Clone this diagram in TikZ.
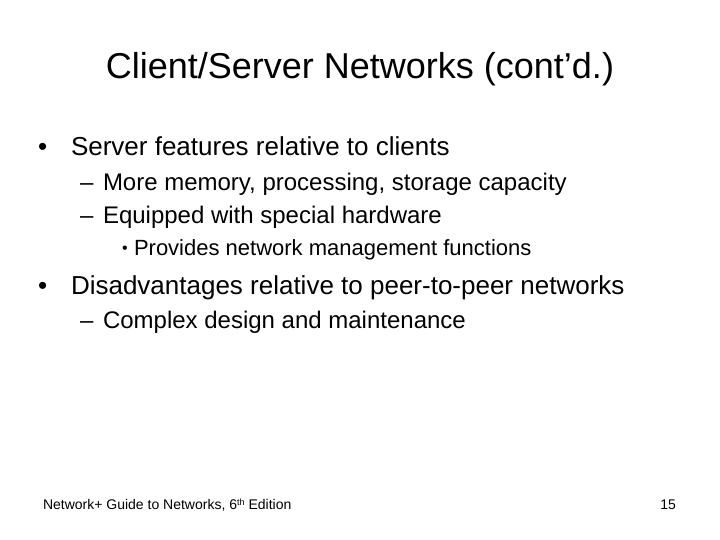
\documentclass[tikz,border=0pt]{standalone}
\usepackage{fontspec}
\setmainfont{Liberation Sans}
\begin{document}
\begin{tikzpicture}[x=1pt,y=-1pt,
  every node/.style={inner sep=0pt,outer sep=0pt,anchor=base west},
  titletext/.style={font=\fontsize{36}{40}\selectfont,anchor=base},
  lvlone/.style={font=\fontsize{26}{30}\selectfont},
  lvltwo/.style={font=\fontsize{24}{28}\selectfont},
  lvlthree/.style={font=\fontsize{22}{25}\selectfont},
  foot/.style={font=\fontsize{14}{16}\selectfont}]
\useasboundingbox (0,0) rectangle (720,540);
\node[titletext] (title) at (360,79) {Client/Server Networks (cont’d.)};
\node[lvlone] (b1) at (38,156) {•};
\node[lvlone] (t1) at (71,156) {Server features relative to clients};
\node[lvltwo] (b2) at (80,191) {–};
\node[lvltwo] (t2) at (103,191) {More memory, processing, storage capacity};
\node[lvltwo] (b3) at (80,224) {–};
\node[lvltwo] (t3) at (103,224) {Equipped with special hardware};
\node[lvlthree,font=\fontsize{16}{20}\selectfont] (b4) at (122,254) {•};
\node[lvlthree] (t4) at (134,255) {Provides network management functions};
\node[lvlone] (b5) at (38,294) {•};
\node[lvlone] (t5) at (71,294) {Disadvantages relative to peer-to-peer networks};
\node[lvltwo] (b6) at (80,328) {–};
\node[lvltwo] (t6) at (103,328) {Complex design and maintenance};
\node[foot] (f1) at (43,509) {Network+ Guide to Networks, 6\raisebox{4pt}{\fontsize{9}{10}\selectfont th} Edition};
\node[foot,anchor=base east] (f2) at (676,509) {15};
\end{tikzpicture}
\end{document}
